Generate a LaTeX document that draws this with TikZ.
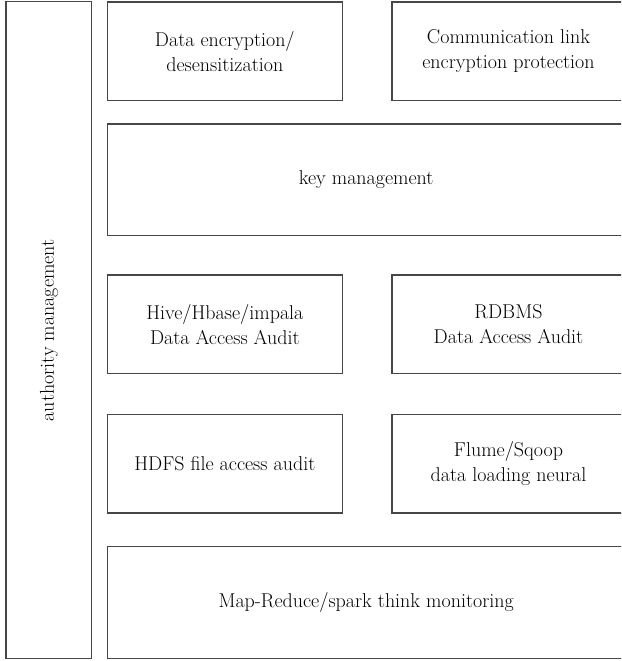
\documentclass[tikz,border=0pt]{standalone}
\begin{document}
\begin{tikzpicture}[x=1pt,y=-1pt,
  blk/.style={draw=black!72, line width=1.1pt, inner sep=0pt, align=center,
    font=\fontsize{20}{25}\selectfont},
]
% page frame; the right-hand boxes run past its edge
\path[use as bounding box] (0,0) rectangle (621,661);
\clip (0,0) rectangle (621,661);

% left column
\node[blk, minimum width=85.7pt, minimum height=657pt] (auth) at (48.85,330.4) {};
\node[rotate=90, font=\fontsize{20}{25}\selectfont] (authtxt) at (auth.center) {authority management};

% encryption row
\node[blk, minimum width=235pt, minimum height=98.5pt] (enc) at (224.8,51.25) {Data encryption/\\desensitization};
\node[blk, minimum width=233pt, minimum height=98.5pt] (link) at (508.5,51.25) {Communication link\\encryption protection};

% key management
\node[blk, minimum width=517.7pt, minimum height=111.7pt] (key) at (366.15,179.85) {key management};

% access audit rows
\node[blk, minimum width=235pt, minimum height=98.7pt] (hive) at (224.8,324.35) {Hive/Hbase/impala\\Data Access Audit};
\node[blk, minimum width=233pt, minimum height=98.7pt] (rdb) at (508.5,324.35) {RDBMS\\Data Access Audit};
\node[blk, minimum width=235pt, minimum height=98.5pt] (hdfs) at (224.8,463.75) {HDFS file access audit};
\node[blk, minimum width=233pt, minimum height=98.5pt] (flume) at (508.5,463.75) {Flume/Sqoop\\data loading neural};

% monitoring
\node[blk, minimum width=517.7pt, minimum height=112pt] (mr) at (366.15,602.8) {Map-Reduce/spark think monitoring};
\end{tikzpicture}
\end{document}
